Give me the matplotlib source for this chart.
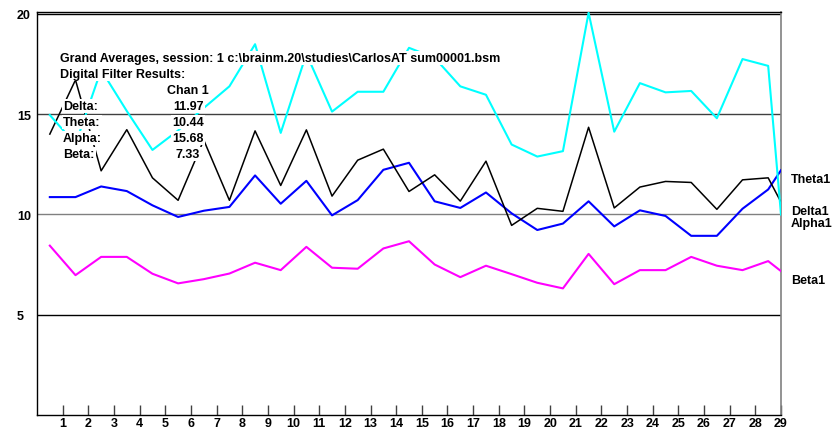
import numpy as np
import matplotlib
matplotlib.use("Agg")
import matplotlib.pyplot as plt
from matplotlib import font_manager

# ---------------------------------------------------------------------
# DATA
# ---------------------------------------------------------------------

# sample positions: half-way between epoch ticks, last sample on the edge
x_pos = [i + 0.5 for i in range(29)] + [29]

delta = [14.0, 16.7, 12.17, 14.22, 11.82, 10.70, 13.7, 10.70, 14.16, 11.44,
         14.21, 10.91, 12.70, 13.25, 11.14, 11.97, 10.66, 12.65, 9.45, 10.30,
         10.15, 14.34, 10.32, 11.36, 11.64, 11.59, 10.25, 11.72, 11.82, 10.61]
theta = [10.86, 10.86, 11.39, 11.16, 10.45, 9.87, 10.18, 10.37, 11.94, 10.53,
         11.67, 9.95, 10.71, 12.22, 12.57, 10.65, 10.32, 11.09, 10.05, 9.22,
         9.54, 10.65, 9.40, 10.20, 9.92, 8.93, 8.93, 10.28, 11.24, 12.20]
alpha = [14.95, 13.50, 17.20, 15.15, 13.21, 14.18, 15.30, 16.38, 18.48, 14.06,
         18.00, 15.12, 16.11, 16.11, 18.30, 17.80, 16.38, 15.96, 13.48, 12.88,
         13.15, 20.05, 14.12, 16.54, 16.08, 16.15, 14.79, 17.74, 17.40, 9.99]
beta = [8.44, 6.97, 7.88, 7.88, 7.04, 6.56, 6.77, 7.05, 7.59, 7.22,
        8.38, 7.34, 7.29, 8.30, 8.66, 7.50, 6.87, 7.44, 7.02, 6.59,
        6.31, 8.03, 6.52, 7.22, 7.22, 7.88, 7.44, 7.22, 7.67, 7.17]

band_names = ["Delta", "Theta", "Alpha", "Beta"]
band_means = ["11.97", "10.44", "15.68", "7.33"]
x_ticks = list(range(1, 30))
y_ticks = [5, 10, 15, 20]

title_line = r"Grand Averages, session: 1 c:\brainm.20\studies\CarlosAT sum00001.bsm"

# ---------------------------------------------------------------------
# FIGURE
# ---------------------------------------------------------------------

names = {f.name for f in font_manager.fontManager.ttflist}
FONT = "Liberation Sans Narrow" if "Liberation Sans Narrow" in names else "Liberation Sans"
plt.rcParams["font.family"] = [FONT, "DejaVu Sans"]
plt.rcParams["font.weight"] = "bold"
FS = 9

W, H = 836, 431
fig = plt.figure(figsize=(W / 100, H / 100), dpi=100)
ax = fig.add_axes([37 / W, 1 - 416 / H, (781 - 37) / W, (416 - 12.7) / H])


def fig_xy(px, py):
    return px / W, 1 - py / H


ax.set_xlim(0, 29)
ax.set_ylim(0, 20.1)

grid_colors = {5: "black", 10: "#808080", 15: "#404040", 20: "black"}
for yv in y_ticks:
    ax.axhline(yv, color=grid_colors[yv], lw=1.0, zorder=1)

series = [
    ("Theta1", theta, "#0000ff", 1.5),
    ("Delta1", delta, "black", 1.1),
    ("Alpha1", alpha, "#00ffff", 1.5),
    ("Beta1", beta, "#ff00ff", 1.5),
]
for name, vals, col, lw in series:
    ax.plot(x_pos, vals, color=col, lw=lw, zorder=3, clip_on=True)
    ax.annotate(name, xy=(x_pos[-1], vals[-1]), xytext=(7, -2),
                textcoords="offset points", va="top", ha="left",
                fontsize=FS, annotation_clip=False)

ax.set_xticks(x_ticks)
ax.set_xticklabels([str(t) for t in x_ticks])
ax.tick_params(axis="x", direction="in", length=7, width=1, pad=1.5,
               labelsize=FS, color="#404040")
ax.set_yticks(y_ticks)
ax.tick_params(axis="y", length=0, pad=14.5, labelsize=FS)
for lab in ax.get_yticklabels():
    lab.set_ha("left")

for side in ["left", "bottom", "top"]:
    ax.spines[side].set_color("black")
    ax.spines[side].set_linewidth(1.0)
ax.spines["right"].set_color("#808080")
ax.spines["right"].set_linewidth(1.2)

# filter result table with white text boxes over the traces
box = dict(facecolor="white", edgecolor="none", pad=1.0)
txt = dict(fontsize=FS, va="center", bbox=box, zorder=5)
fig.text(*fig_xy(60, 59), title_line, ha="left", **txt)
fig.text(*fig_xy(60, 75), "Digital Filter Results:", ha="left", **txt)
fig.text(*fig_xy(188, 91), "Chan 1", ha="center", **txt)
for i, (nm, mv) in enumerate(zip(band_names, band_means)):
    py = 107 + 16 * i
    fig.text(*fig_xy(63, py), nm + ":", ha="left", **txt)
    fig.text(*fig_xy(188, py), mv, ha="center", **txt)

fig.savefig("out.png", dpi=100)
